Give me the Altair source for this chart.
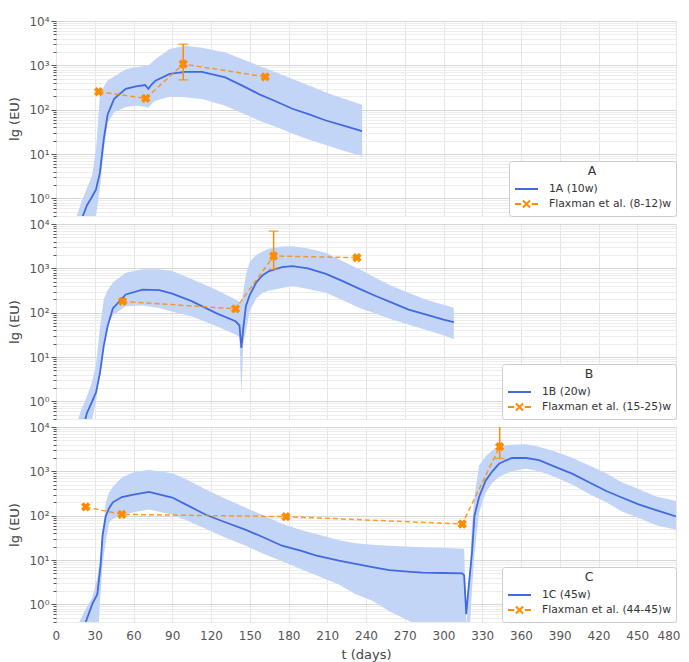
import altair as alt
import pandas as pd

# ---------------- data ----------------
# Panel A
tA = [16, 20, 24, 28, 31, 34, 37, 40, 45, 54, 62, 69, 71.5, 74, 77, 88, 100, 113, 131, 145, 157, 170, 183, 196, 209, 222, 237]
lineA = [0.1, 0.35, 0.7, 1.1, 1.6, 3.8, 22, 78, 175, 295, 335, 360, 295, 370, 450, 640, 715, 715, 535, 340, 225, 155, 105, 78, 57, 44, 33]
upA = [0.4, 0.9, 1.7, 3.3, 13, 210, 330, 460, 560, 820, 900, 980, 1000, 1150, 1380, 2350, 2750, 2500, 1950, 1350, 980, 700, 490, 350, 245, 180, 130]
lowA = [0.38, 0.1, 0.1, 0.1, 0.4, 1.7, 12, 50, 88, 115, 122, 116, 110, 135, 160, 195, 190, 175, 123, 82, 57, 41, 29, 21, 16, 12, 9]
obsA_t = [33, 69.5, 98.5, 162]
obsA_v = [255, 180, 1070, 550]
errA_t = [98.5]
errA_lo = [470]
errA_hi = [3000]

# Panel B
tB = [17, 20, 24, 28, 31, 34, 37, 40, 44, 54, 67, 80, 90, 105, 124, 139, 142, 143.5, 145, 147, 150, 155, 160, 165, 175, 183, 195, 209, 222, 235, 248, 260, 273, 286, 300, 308]
lineB = [0.1, 0.2, 0.55, 1.0, 1.6, 4.3, 18, 50, 125, 257, 330, 322, 270, 182, 98, 64, 52, 16, 45, 140, 250, 480, 700, 870, 1060, 1120, 1000, 750, 515, 345, 235, 168, 117, 92, 70, 61]
upB = [0.4, 0.7, 1.3, 2.8, 7, 45, 200, 320, 480, 795, 960, 950, 870, 575, 330, 198, 175, 166, 300, 700, 1400, 2000, 2400, 2800, 3100, 3160, 2800, 2240, 1450, 950, 600, 400, 280, 198, 150, 129]
lowB = [0.38, 0.1, 0.1, 0.4, 1.0, 5, 20, 55, 88, 140, 145, 128, 105, 83, 50, 32, 28, 1.4, 20, 38, 110, 210, 280, 315, 360, 400, 340, 280, 190, 127, 94, 70, 54, 41, 31, 25]
obsB_t = [51.5, 139, 168.5, 233]
obsB_v = [180, 122, 1900, 1740]
errB_t = [168.5]
errB_lo = [950]
errB_hi = [6900]

# Panel C
tC = [18, 23, 28, 32, 34.6, 36, 38.5, 41, 44, 51, 60, 72, 90, 100, 116, 130, 147, 160, 175, 190, 201, 219, 232, 245, 258, 275, 284, 300, 314.5, 316, 317.6, 319.5, 322, 324, 327.5, 332.6, 337.8, 343, 348, 353, 361, 364, 374, 387, 400, 413, 426, 438, 451, 464, 480]
lineC = [0.15, 0.4, 1.0, 1.7, 8, 35, 96, 145, 200, 263, 300, 345, 257, 182, 105, 73, 48, 33, 21, 16, 12.7, 9.7, 8.2, 6.9, 5.9, 5.4, 5.2, 5.1, 5.0, 4.5, 0.6, 2.5, 14, 100, 260, 615, 1000, 1480, 1750, 2000, 2000, 2000, 1780, 1240, 875, 560, 360, 257, 180, 135, 96]
upC = [0.4, 0.8, 1.4, 4, 14, 40, 195, 330, 450, 730, 950, 1080, 900, 680, 390, 250, 150, 103, 66, 47, 39, 28, 24, 22, 21, 20, 19.5, 19, 18, 18, 0.3, 2, 60, 275, 1350, 2200, 3000, 3500, 3900, 4000, 4070, 4070, 3600, 2760, 2000, 1350, 900, 570, 400, 275, 213]
lowC = [0.38, 0.1, 0.1, 0.1, 2, 8, 25, 68, 85, 105, 120, 137, 105, 81, 51, 33, 21, 14, 9.4, 6.2, 4.6, 2.8, 1.7, 1.2, 0.7, 0.4, 0.25, 0.1, 0.1, 0.1, 0.1, 0.1, 2, 14, 115, 330, 550, 750, 880, 1000, 1120, 1140, 1000, 735, 500, 303, 200, 125, 90, 62, 48]
obsC_t = [23, 51, 178, 314.5, 343.5]
obsC_v = [158, 107, 95, 65, 3600]
errC_t = [343.5]
errC_lo = [1950]
errC_hi = [11000]

labelsA = ["1A (10w)", "Flaxman et al. (8-12)w"]
labelsB = ["1B (20w)", "Flaxman et al. (15-25)w"]
labelsC = ["1C (45w)", "Flaxman et al. (44-45)w"]

x_ticks = list(range(0, 481, 30))
y_ticks = [0.4, 0.5, 0.6, 0.7, 0.8, 0.9,
           1, 2, 3, 4, 5, 6, 7, 8, 9,
           10, 20, 30, 40, 50, 60, 70, 80, 90,
           100, 200, 300, 400, 500, 600, 700, 800, 900,
           1000, 2000, 3000, 4000, 5000, 6000, 7000, 8000, 9000, 10000]

# ---------------- style ----------------
BLUE = "#4169e1"
BAND = "#c3d5f7"
ORANGE = "#ff8c00"
FONT = "DejaVu Sans"
W, H = 620, 195

MAJOR = "datum.value == 1 || datum.value == 10 || datum.value == 100 || datum.value == 1000 || datum.value == 10000"
LABEL_EXPR = ("datum.value == 1 ? '10⁰' : datum.value == 10 ? '10¹' : datum.value == 100 ? '10²' : "
              "datum.value == 1000 ? '10³' : datum.value == 10000 ? '10⁴' : ''")

LINE_PATH = "M-1.35,0L1.35,0"
DASH_X_PATH = "M-1.35,0L-0.62,0M0.62,0L1.35,0M-0.42,-0.42L0.42,0.42M-0.42,0.42L0.42,-0.42"


def make_panel(t, line, up, low, ot, ov, et, elo, ehi, labels, title, bottom):
    curve = pd.DataFrame({"t": t, "m": line, "hi": up, "lo": low})
    obs = pd.DataFrame({"t": ot, "v": ov})
    err = pd.DataFrame({"t": et, "lo": elo, "hi": ehi})
    caps = pd.DataFrame({"t": et + et, "v": elo + ehi})
    leg = pd.DataFrame({"s": labels, "t": [0, 0], "v": [0.01, 0.01]})

    xs = alt.Scale(domain=[0, 480], nice=False)
    ys = alt.Scale(type="log", domain=[0.4, 10000], nice=False)
    if bottom:
        xaxis = alt.Axis(values=x_ticks, title="t (days)", labelFontSize=12, labelColor="#555",
                         titleFontSize=13, titleColor="#444", titleFontWeight="normal",
                         ticks=False, labelPadding=8, domain=False, gridColor="#e4e4e4",
                         labelFlush=True, labelFlushOffset=4, titlePadding=7,
                         labelFont=FONT, titleFont=FONT)
    else:
        xaxis = alt.Axis(values=x_ticks, labels=False, ticks=False, title=None, domain=False,
                         gridColor="#e4e4e4")
    yaxis = alt.Axis(values=y_ticks, labelExpr=LABEL_EXPR, title="lg (EU)", grid=True,
                     gridColor={"condition": {"test": MAJOR, "value": "#d6d6d6"}, "value": "#ededed"},
                     tickSize={"condition": {"test": MAJOR, "value": 5}, "value": 3},
                     labelFontSize={"condition": {"test": MAJOR, "value": 12}, "value": 0},
                     tickColor="#555", domain=False, labelColor="#555",
                     titleFontSize=13, titleColor="#444", titleFontWeight="normal",
                     titlePadding=7, labelPadding=2, labelOverlap=False, labelFlush=False,
                     labelFont=FONT, titleFont=FONT)

    X = alt.X("t:Q", scale=xs, axis=xaxis)

    band = alt.Chart(curve).mark_area(color=BAND, opacity=1, clip=True).encode(
        x=X, y=alt.Y("lo:Q", scale=ys, axis=yaxis), y2="hi:Q")
    mline = alt.Chart(curve).mark_line(color=BLUE, strokeWidth=1.8, clip=True).encode(
        x=X, y=alt.Y("m:Q", scale=ys, axis=yaxis))
    oline = alt.Chart(obs).mark_line(color=ORANGE, strokeDash=[5, 3], strokeWidth=1.5,
                                     opacity=0.85, clip=True).encode(
        x=X, y=alt.Y("v:Q", scale=ys, axis=yaxis))
    rule = alt.Chart(err).mark_rule(color=ORANGE, strokeWidth=1.5, clip=True).encode(
        x=X, y=alt.Y("lo:Q", scale=ys, axis=yaxis), y2="hi:Q")
    cap = alt.Chart(caps).mark_tick(color=ORANGE, orient="horizontal", size=10, thickness=1.5,
                                    clip=True).encode(
        x=X, y=alt.Y("v:Q", scale=ys, axis=yaxis))
    pts = alt.Chart(obs).mark_point(shape="cross", angle=45, filled=True, size=90, color=ORANGE,
                                    opacity=1, clip=True).encode(
        x=X, y=alt.Y("v:Q", scale=ys, axis=yaxis))

    legend = alt.Legend(title=title, orient="bottom-right", offset=0, titleAnchor="middle",
                        titleFontWeight="normal", titleFontSize=12.5, titleColor="#333",
                        labelFontSize=10.8, labelColor="#333", labelFont=FONT, titleFont=FONT,
                        symbolSize=289, symbolStrokeWidth=2, symbolOffset=4, labelOffset=13,
                        padding=4, strokeColor="#cccccc",
                        fillColor="white", cornerRadius=3, rowPadding=0, labelLimit=300,
                        titlePadding=2)
    legl = alt.Chart(leg).mark_point(filled=False, strokeWidth=2, opacity=1, clip=True).encode(
        x=X, y=alt.Y("v:Q", scale=ys, axis=yaxis),
        color=alt.Color("s:N", scale=alt.Scale(domain=labels, range=[BLUE, ORANGE]), legend=legend),
        shape=alt.Shape("s:N", scale=alt.Scale(domain=labels, range=[LINE_PATH, DASH_X_PATH]), legend=legend),
    )

    return alt.layer(band, mline, oline, rule, cap, pts, legl).properties(width=W, height=H)


pA = make_panel(tA, lineA, upA, lowA, obsA_t, obsA_v, errA_t, errA_lo, errA_hi, labelsA, "A", False)
pB = make_panel(tB, lineB, upB, lowB, obsB_t, obsB_v, errB_t, errB_lo, errB_hi, labelsB, "B", False)
pC = make_panel(tC, lineC, upC, lowC, obsC_t, obsC_v, errC_t, errC_lo, errC_hi, labelsC, "C", True)

chart = alt.vconcat(pA, pB, pC, spacing=0).resolve_scale(
    color="independent", shape="independent"
).resolve_legend(color="independent", shape="independent").properties(
    padding={"left": 0, "top": 6, "right": 0, "bottom": 0}
).configure_view(
    stroke="#dddddd"
).configure(font=FONT, background="white")

chart.save("out.html", embed_options={"renderer": "svg", "actions": False})
